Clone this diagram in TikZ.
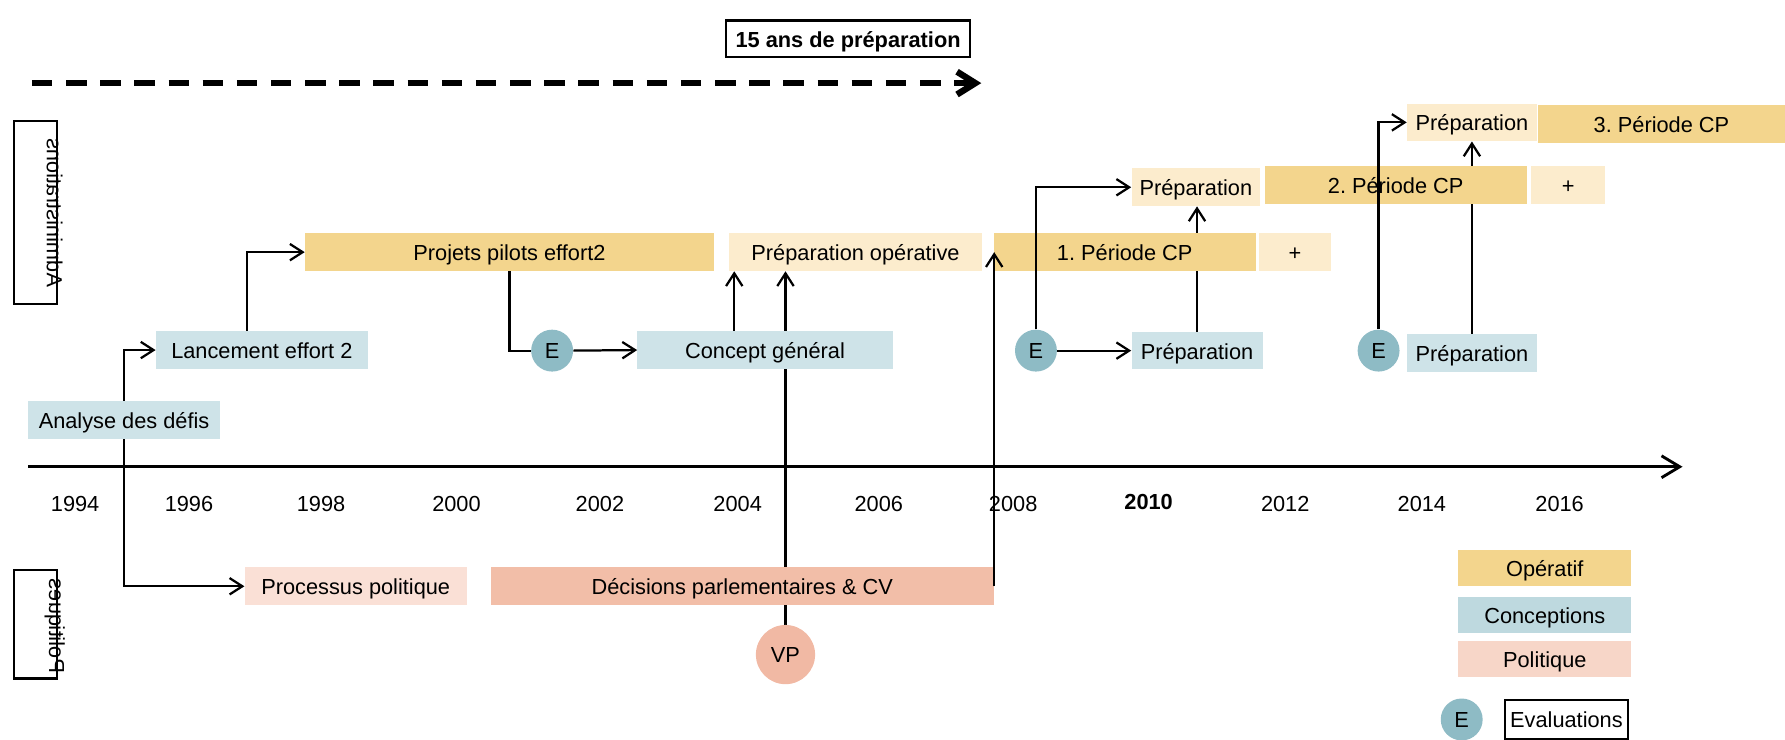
\documentclass[tikz,border=0pt]{standalone}
\usepackage{fontspec}
\setmainfont{Liberation Sans}
\usetikzlibrary{arrows.meta,calc}
\frenchspacing

\definecolor{opgold}{RGB}{243,213,141}
\definecolor{oplight}{RGB}{252,236,205}
\definecolor{concblue}{RGB}{206,227,232}
\definecolor{conclegend}{RGB}{190,217,223}
\definecolor{evalblue}{RGB}{142,187,197}
\definecolor{pollight}{RGB}{250,224,214}
\definecolor{polsalmon}{RGB}{242,190,168}
\definecolor{pollegend}{RGB}{247,214,200}
\definecolor{vpsalmon}{RGB}{241,185,164}

\pgfdeclarelayer{background}
\pgfsetlayers{background,main}

\begin{document}
\begin{tikzpicture}[x=0.025cm, y=-0.025cm,
	every node/.style={font=\fontsize{13.6}{16}\selectfont, text=black},
	bar/.style={inner sep=0pt, minimum height=0.825cm, text height=10.5pt, text depth=0pt},
	evalpoint/.style={circle, fill=evalblue, inner sep=0pt, minimum size=0.92cm, text height=10pt, text depth=0pt},
	cadre/.style={draw, line width=1.4pt, inner sep=0pt},
	fleche/.style={line width=1.4pt, -{Straight Barb[length=2.8mm, width=3.6mm]}},
	lien/.style={line width=1.4pt}]

	\useasboundingbox (0,0) rectangle (1568,650);

	% titre et fleche des 15 ans
	\node[cadre, minimum width=5.35cm, minimum height=0.8cm, text height=10.5pt, text depth=0pt, font=\fontsize{13.6}{16}\selectfont\bfseries] (titre) at (745,34) {15 ans de préparation};
	\coordinate (prepdebut) at (28,73);
	\coordinate (prepfin) at (862,73);
	\draw[line width=4pt, dash pattern=on 0.45cm off 0.3cm, -{Straight Barb[length=4mm, width=5mm]}] (prepdebut) -- (prepfin);

	% axe du temps
	\coordinate (axedebut) at (25,410);
	\coordinate (axefin) at (1478,410);
	\draw[line width=1.8pt, -{Straight Barb[length=4mm, width=4.8mm]}] (axedebut) -- (axefin);
	\foreach \an/\xx in {1994/66, 1996/166, 1998/282, 2000/401, 2002/527, 2004/648, 2006/772, 2008/890, 2012/1129, 2014/1249, 2016/1370}
		\node (an\an) at (\xx,443) {\an};
	\node[font=\fontsize{13.6}{16}\selectfont\bfseries] (an2010) at (1009,441) {2010};

	% bandes laterales
	\node[cadre, minimum width=0.95cm, minimum height=4.025cm] (adminbox) at (31,186.5) {};
	\node[rotate=90, yscale=-1, inner sep=0pt] (admintext) at (48,187) {Administrations};
	\node[cadre, minimum width=0.95cm, minimum height=2.375cm] (polbox) at (31,548.5) {};
	\node[rotate=90, yscale=-1, inner sep=0pt] (poltext) at (48,550) {Politiques};

	% conceptions
	\node[bar, fill=concblue, minimum width=4.2cm] (analyse) at (109,369) {Analyse des défis};
	\node[bar, fill=concblue, minimum width=4.65cm] (lancement) at (230,307.5) {Lancement effort 2};
	\node[bar, fill=concblue, minimum width=5.6cm] (concept) at (672,307.5) {Concept général};
	\node[bar, fill=concblue, minimum width=2.875cm] (preplow1) at (1051.5,308) {Préparation};
	\node[bar, fill=concblue, minimum width=2.85cm] (preplow2) at (1293,310) {Préparation};

	% operatif
	\node[bar, fill=opgold, minimum width=8.975cm] (projets) at (447.5,221.5) {Projets pilots effort2};
	\node[bar, fill=oplight, minimum width=5.575cm] (prepop) at (751.5,221.5) {Préparation opérative};
	\node[bar, fill=opgold, minimum width=5.75cm] (periode1) at (988,221.5) {1. Période CP};
	\node[bar, fill=oplight, minimum width=1.575cm] (plus1) at (1137.5,221.5) {+};
	\node[bar, fill=oplight, minimum width=2.825cm] (prepup1) at (1050.5,164.5) {Préparation};
	\node[bar, fill=opgold, minimum width=5.75cm] (periode2) at (1226,162.5) {2. Période CP};
	\node[bar, fill=oplight, minimum width=1.625cm] (plus2) at (1377.5,162.5) {+};
	\node[bar, fill=oplight, minimum width=2.85cm] (preptop) at (1293,107.5) {Préparation};
	\node[bar, fill=opgold, minimum width=5.425cm] (periode3) at (1459.5,109) {3. Période CP};

	% evaluations
	\node[evalpoint] (e1) at (485,308) {E};
	\node[evalpoint] (e2) at (910,308) {E};
	\node[evalpoint] (e3) at (1211,308) {E};

	% politique
	\node[bar, fill=pollight, minimum width=4.875cm] (processus) at (312.5,515) {Processus politique};
	\node[bar, fill=polsalmon, minimum width=11.05cm] (decisions) at (652,515) {Décisions parlementaires \& CV};
	\node[circle, fill=vpsalmon, inner sep=0pt, minimum size=1.3cm, text height=10pt, text depth=0pt] (vp) at (690,575) {VP};

	% legende
	\node[bar, fill=opgold, minimum width=3.8cm, minimum height=0.8cm] (legop) at (1357,499) {Opératif};
	\node[bar, fill=conclegend, minimum width=3.8cm, minimum height=0.8cm] (legconc) at (1357,540) {Conceptions};
	\node[bar, fill=pollegend, minimum width=3.8cm, minimum height=0.8cm] (legpol) at (1357,579) {Politique};
	\node[evalpoint] (legeval) at (1284,632) {E};
	\node[cadre, line width=1.2pt, minimum width=2.7cm, minimum height=0.86cm, text height=10.5pt, text depth=0pt] (legevaltext) at (1376,632) {Evaluations};

	% liens caches par les bandes
	\begin{pgfonlayer}{background}
		\draw[fleche] (analyse.north) |- (lancement.west);
		\draw[fleche] (analyse.south) |- (processus.west);
		\draw[fleche] (vp.north) -- (vp.north |- prepop.south);
		\draw[fleche] (preplow1.north) -- (preplow1.north |- prepup1.south);
		\draw[fleche] (preplow2.north) -- (preplow2.north |- preptop.south);
	\end{pgfonlayer}

	% liens visibles
	\coordinate (lancpied) at ($(lancement.north)+(-13,0)$);
	\coordinate (conceptpied) at ($(concept.north)+(-27,0)$);
	\draw[fleche] (lancpied) |- (projets.west);
	\draw[lien] (projets.south) |- (e1.west);
	\draw[fleche] (e1.east) -- (concept.west);
	\draw[fleche] (conceptpied) -- (conceptpied |- prepop.south);
	\draw[fleche] (decisions.east) -- (decisions.east |- periode1.west);
	\draw[fleche] (e2.east) -- (preplow1.west);
	\draw[fleche] (e2.north) |- (prepup1.west);
	\draw[fleche] (e3.north) |- (preptop.west);
\end{tikzpicture}
\end{document}
